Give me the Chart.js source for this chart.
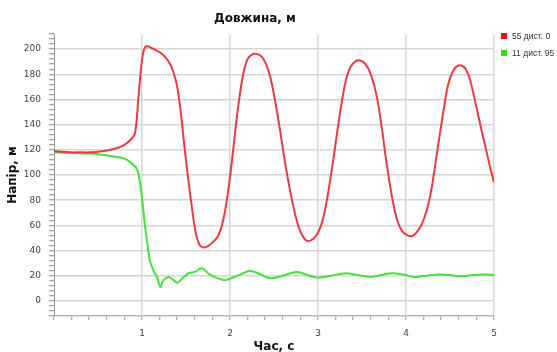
<!DOCTYPE html>
<html>
<head>
<meta charset="utf-8">
<script src="https://cdn.jsdelivr.net/npm/chart.js@4/dist/chart.umd.min.js"></script>
<style>
  html, body { margin: 0; padding: 0; background: #fff; }
  #wrap { position: relative; width: 557px; height: 352px; }
  #chartTitle {
    position: absolute; left: 0; width: 510px; top: 11px;
    text-align: center; font: bold 12px "DejaVu Sans", sans-serif; color: #111;
  }
  #legend { position: absolute; left: 501px; top: 31px; font: 8.5px "Liberation Sans", sans-serif; color: #333; }
  .legend-item { height: 17px; line-height: 10px; white-space: nowrap; }
  .legend-dot { display: inline-block; width: 6px; height: 6px; margin-right: 5px; vertical-align: 0px; }
</style>
</head>
<body>
<div id="wrap">
  <canvas id="chart" width="557" height="352"></canvas>
  <div id="chartTitle">Довжина, м</div>
  <div id="legend"></div>
</div>
<script>
const SERIES_NAMES = ['55 дист. 0', '11 дист. 95'];
const LINE_COLORS = ['#ec3b3f', '#45e238'];
const LEGEND_COLORS = ['#f01010', '#30e010'];

// час, с
const redTime = [0, 0.1, 0.2, 0.3, 0.4, 0.5, 0.6, 0.7, 0.8, 0.87, 0.92, 0.96, 1.0, 1.04, 1.12, 1.2, 1.26, 1.32, 1.36, 1.4, 1.44, 1.48, 1.52, 1.56, 1.61, 1.65, 1.69, 1.75, 1.81, 1.86, 1.9, 1.94, 1.98, 2.02, 2.06, 2.1, 2.15, 2.2, 2.26, 2.31, 2.36, 2.41, 2.46, 2.51, 2.57, 2.63, 2.69, 2.75, 2.8, 2.85, 2.89, 2.94, 2.99, 3.03, 3.07, 3.12, 3.18, 3.23, 3.27, 3.32, 3.37, 3.43, 3.48, 3.54, 3.6, 3.66, 3.72, 3.78, 3.84, 3.9, 3.96, 4.02, 4.07, 4.12, 4.18, 4.24, 4.29, 4.34, 4.39, 4.44, 4.48, 4.53, 4.58, 4.63, 4.68, 4.73, 4.8, 4.86, 4.92, 4.96, 5.0];
// напір, м
const redHead = [119, 118.5, 118, 118, 118, 118.5, 119.5, 121, 124, 128, 133, 162, 191, 202, 200.5, 197.5, 194, 188, 181, 170, 150, 124, 100, 78, 54, 45, 42.5, 43.5, 47, 51, 58, 70, 88, 110, 135, 158, 180, 192, 196, 196, 194, 188, 177, 160, 135, 108, 85, 66, 55, 49, 47.5, 49, 53, 59, 69, 88, 115, 140, 158, 176, 186, 190.5, 191, 188, 180, 165, 140, 109, 83, 64, 55, 52, 51.5, 54.5, 61, 73, 89, 112, 135, 157, 172, 182, 186.5, 187, 184, 175, 154, 135, 117, 105, 94];

const greenTime = [0, 0.2, 0.4, 0.5, 0.6, 0.7, 0.8, 0.87, 0.93, 0.96, 1.0, 1.03, 1.06, 1.09, 1.13, 1.17, 1.21, 1.24, 1.3, 1.35, 1.4, 1.46, 1.53, 1.6, 1.68, 1.75, 1.81, 1.88, 1.95, 2.05, 2.15, 2.23, 2.35, 2.46, 2.6, 2.76, 2.9, 3.0, 3.15, 3.31, 3.45, 3.6, 3.72, 3.84, 3.97, 4.1, 4.23, 4.37, 4.5, 4.62, 4.75, 4.88, 5.0];
const greenHead = [118, 117.5, 117, 116.5, 115.5, 114.5, 113, 110, 106, 101, 82, 62, 46, 32, 24, 19, 11, 16, 19, 17, 14.5, 18, 22, 23, 26, 22, 19.5, 17.5, 16.5, 19, 22, 24, 21, 18, 20, 23, 20, 18.5, 20, 22, 20.5, 19, 20.5, 22, 21, 19, 20, 21, 20.5, 19.5, 20.5, 21, 20.5];

const yTickLabels = [0, 20, 40, 60, 80, 100, 120, 140, 160, 180, 200];
const xTickLabels = [1, 2, 3, 4, 5];

function isOn(v, list) {
  return list.some(t => Math.abs(v - t) < 1e-6);
}

const ctx = document.getElementById('chart').getContext('2d');
new Chart(ctx, {
  type: 'line',
  data: {
    datasets: [
      {
        label: SERIES_NAMES[0],
        data: redTime.map((t, i) => ({ x: t, y: redHead[i] })),
        borderColor: LINE_COLORS[0],
        borderWidth: 2,
        pointRadius: 0,
        tension: 0.35
      },
      {
        label: SERIES_NAMES[1],
        data: greenTime.map((t, i) => ({ x: t, y: greenHead[i] })),
        borderColor: LINE_COLORS[1],
        borderWidth: 2,
        pointRadius: 0,
        tension: 0.35
      }
    ]
  },
  options: {
    responsive: false,
    animation: false,
    layout: { padding: { top: 34, right: 63, left: 0, bottom: 0 } },
    plugins: { legend: { display: false }, tooltip: { enabled: false } },
    scales: {
      x: {
        type: 'linear',
        min: 0,
        max: 5,
        afterFit: s => { s.height = 36; },
        border: { color: '#b8b8b8', width: 1.5 },
        grid: {
          color: c => isOn(c.tick.value, xTickLabels) ? '#d6d6d6' : 'rgba(0,0,0,0)',
          lineWidth: 1.5,
          tickColor: '#999',
          tickLength: 4,
          tickWidth: 1
        },
        ticks: {
          stepSize: 0.2,
          autoSkip: false,
          maxRotation: 0,
          padding: 8,
          color: '#444',
          font: { family: 'DejaVu Sans', size: 9 },
          callback: v => isOn(v, xTickLabels) ? String(Math.round(v)) : ''
        },
        title: {
          display: true,
          text: 'Час, с',
          color: '#111',
          font: { family: 'DejaVu Sans', size: 12, weight: 'bold' },
          padding: { top: 0, bottom: -2 }
        }
      },
      y: {
        min: -12,
        max: 212,
        afterFit: s => { s.width = 54; },
        border: { color: '#999', width: 1 },
        grid: {
          color: c => isOn(c.tick.value, yTickLabels) ? '#d6d6d6' : 'rgba(0,0,0,0)',
          lineWidth: 1.5,
          tickColor: '#888',
          tickLength: 5,
          tickWidth: 1
        },
        ticks: {
          stepSize: 4,
          autoSkip: false,
          padding: 8,
          color: '#444',
          font: { family: 'DejaVu Sans', size: 9 },
          callback: v => isOn(v, yTickLabels) ? String(Math.round(v)) : ''
        },
        title: {
          display: true,
          text: 'Напір, м',
          color: '#111',
          font: { family: 'DejaVu Sans', size: 12, weight: 'bold' },
          padding: { top: 6, bottom: 0 }
        }
      }
    }
  }
});

let legendHtml = '';
SERIES_NAMES.forEach((name, i) => {
  legendHtml += '<div class="legend-item"><span class="legend-dot" style="background:' + LEGEND_COLORS[i] + '"></span>' + name + '</div>';
});
document.getElementById('legend').innerHTML = legendHtml;
</script>
</body>
</html>
